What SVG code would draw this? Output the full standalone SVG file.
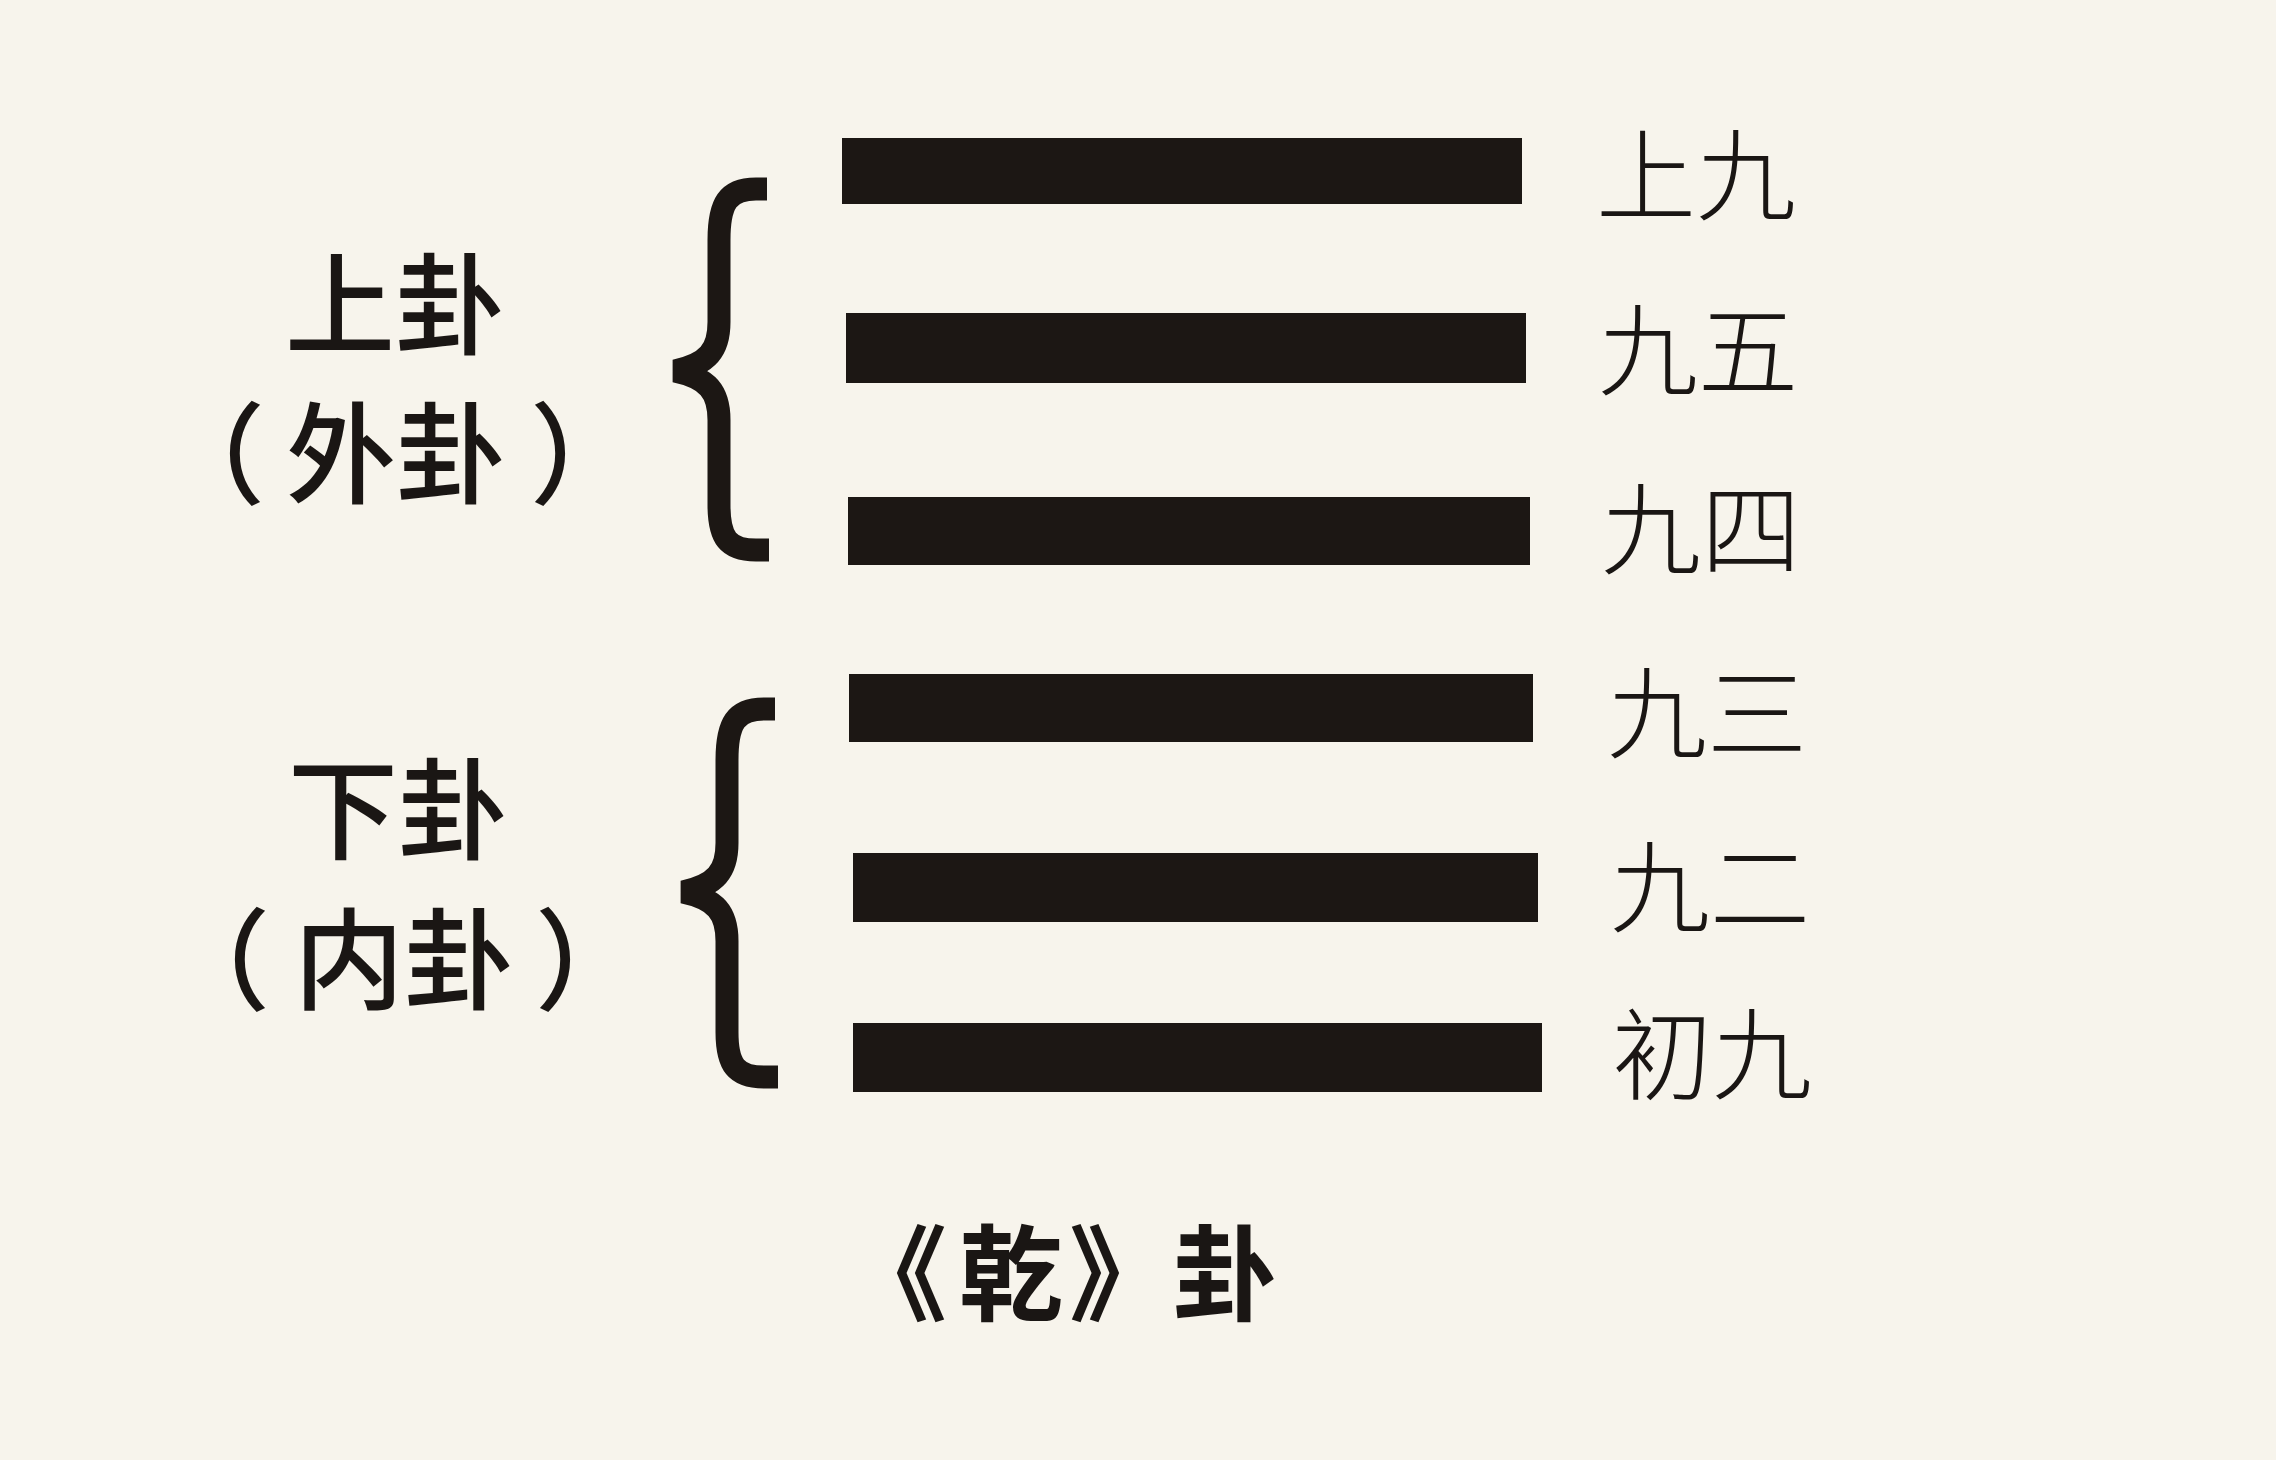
<svg xmlns="http://www.w3.org/2000/svg" width="2276" height="1460" viewBox="0 0 2276 1460">
<style>
.bar{fill:#1c1714}
.brace{fill:none;stroke:#1c1714;stroke-width:23;stroke-linecap:butt;stroke-linejoin:bevel}
.lbl{font-family:"Noto Sans CJK SC","Noto Sans CJK TC",sans-serif;fill:#1a1614}
.yao{font-size:100px;font-weight:300}
.gua{font-size:110px;font-weight:500}
.title{font-size:104px;font-weight:700}
</style>
<rect x="0" y="0" width="2276" height="1460" fill="#f7f4ec"/>
<g id="lines">
<g id="line6"><rect class="bar" x="842" y="138" width="680" height="66"/></g>
<g id="line5"><rect class="bar" x="846" y="313" width="680" height="70"/></g>
<g id="line4"><rect class="bar" x="848" y="497" width="682" height="68"/></g>
<g id="line3"><rect class="bar" x="849" y="674" width="684" height="68"/></g>
<g id="line2"><rect class="bar" x="853" y="853" width="685" height="69"/></g>
<g id="line1"><rect class="bar" x="853" y="1023" width="689" height="69"/></g>
</g>
<g id="connectors">
<path id="brace-upper" class="brace" d="M 767 189 L 756 189 C 728 189 719 203 719 240 L 719 322 C 719 350 708 364 675 371 C 708 378 719 392 719 420 L 719 505 C 719 538 728 550 756 550 L 769 550"/>
<path id="brace-lower" class="brace" d="M 775 709 L 764 709 C 736 709 727 723 727 760 L 727 843 C 727 871 716 885 683 892 C 716 899 727 913 727 941 L 727 1032 C 727 1065 736 1077 764 1077 L 778 1077"/>
</g>
<g id="upper-label">
<text class="lbl gua" x="395" y="346" text-anchor="middle">上卦</text>
<text class="lbl gua" x="155" y="495">（</text>
<text class="lbl gua" x="286" y="495">外卦</text>
<text class="lbl gua" x="530" y="495">）</text>
</g>
<g id="lower-label">
<text class="lbl gua" x="398" y="851" text-anchor="middle">下卦</text>
<text class="lbl gua" x="160" y="1001">（</text>
<text class="lbl gua" x="294" y="1001">内卦</text>
<text class="lbl gua" x="535" y="1001">）</text>
</g>
<g id="yao-labels">
<text class="lbl yao" x="1596" y="213">上九</text>
<text class="lbl yao" x="1598" y="388">九五</text>
<text class="lbl yao" x="1601" y="567">九四</text>
<text class="lbl yao" x="1607" y="751">九三</text>
<text class="lbl yao" x="1610" y="925">九二</text>
<text class="lbl yao" x="1612" y="1092">初九</text>
</g>
<g id="title">
<text class="lbl title" x="843" y="1313">《<tspan dx="12">乾</tspan><tspan dx="6">》</tspan>卦</text>
</g>
</svg>
